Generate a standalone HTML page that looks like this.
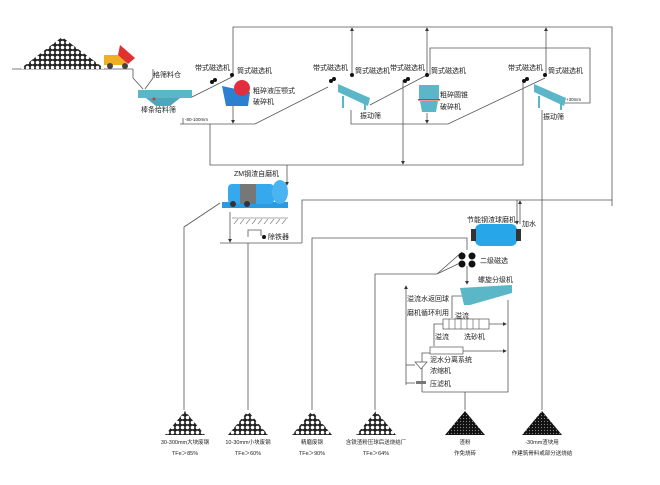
<!DOCTYPE html>
<html><head><meta charset="utf-8"><style>
body{margin:0;background:#fff;}
svg text{font-family:"Liberation Sans","Noto Sans CJK SC",sans-serif;fill:#222;}
</style></head><body>
<svg width="660" height="480" viewBox="0 0 660 480" xmlns="http://www.w3.org/2000/svg">
<defs>
<pattern id="dots" width="5" height="5" patternUnits="userSpaceOnUse"><rect width="5" height="5" fill="#222"/><circle cx="2.5" cy="2.5" r="1.8" fill="#fff"/></pattern>
<pattern id="dots2" width="3" height="3" patternUnits="userSpaceOnUse"><rect width="3" height="3" fill="#111"/><circle cx="1.5" cy="1.5" r="0.6" fill="#888"/></pattern>
<marker id="a" markerWidth="5" markerHeight="5" refX="4" refY="2.5" orient="auto"><path d="M0,0L5,2.5L0,5z" fill="#333"/></marker>
</defs>
<g stroke="#555" stroke-width="0.8" fill="none">
<line x1="12" y1="69" x2="133" y2="69"/>
<path d="M133 69V78L143 89M153 69V78L145 89"/>
<line x1="192" y1="97" x2="232" y2="77"/>
<path d="M233 75V27H612V206"/>
<line x1="352" y1="75" x2="352" y2="28" marker-end="url(#a)"/>
<line x1="427" y1="75" x2="427" y2="28" marker-end="url(#a)"/>
<line x1="546" y1="75" x2="546" y2="28" marker-end="url(#a)"/>
<path d="M430 75V48H590V103H563"/>
<line x1="233" y1="106" x2="233" y2="123" marker-end="url(#a)"/>
<line x1="183" y1="118" x2="183" y2="124"/>
<path d="M180 124H255L328 87"/>
<path d="M351 110V124H448L545 78"/>
<line x1="370" y1="105" x2="425" y2="76"/>
<line x1="427" y1="113" x2="427" y2="123" marker-end="url(#a)"/>
<path d="M210 124V165H523V83"/>
<line x1="403" y1="80" x2="403" y2="164" marker-end="url(#a)"/>
<line x1="287" y1="165" x2="287" y2="185" marker-end="url(#a)"/>
<path d="M302 243V200H612"/>
<line x1="517" y1="200" x2="517" y2="224" marker-end="url(#a)"/>
<line x1="520" y1="224" x2="520" y2="201" marker-end="url(#a)"/>
<line x1="542" y1="110" x2="542" y2="410"/>
<path d="M220 203L184 227V410"/>
<line x1="230" y1="212" x2="230" y2="242" marker-end="url(#a)"/>
<line x1="220" y1="243" x2="302" y2="243"/>
<path d="M248 243V410"/>
<path d="M248 237V230H261V236"/>
<path d="M312 410V238H467V250"/>
<path d="M375 410V274H437L462 262M437 274L462 252"/>
<line x1="467" y1="266" x2="467" y2="284" marker-end="url(#a)"/>
<line x1="406" y1="385" x2="406" y2="286" marker-end="url(#a)"/>
<path d="M462 296H452V318"/>
<path d="M508 300V392H422"/>
<line x1="489" y1="324" x2="506" y2="324" marker-end="url(#a)"/>
<path d="M443 324H434V346"/>
<line x1="463" y1="351" x2="506" y2="351" marker-end="url(#a)"/>
<path d="M430 353H422V392"/>
<line x1="415" y1="365" x2="406" y2="365"/>
<line x1="415" y1="383" x2="406" y2="383"/>
<line x1="465" y1="392" x2="465" y2="410"/>
</g>
<g stroke="#555" stroke-width="0.6"><line x1="232" y1="218" x2="288" y2="218"/>
<path d="M234 224l4-5M240 224l4-5M246 224l4-5M252 224l4-5M258 224l4-5M264 224l4-5M270 224l4-5M276 224l4-5M282 224l4-5"/></g>
<polygon points="20,69 62,37 105,69" fill="url(#dots)"/>
<rect x="104" y="55" width="22" height="10" fill="#f0b020"/>
<polygon points="120,45 135,58 128,64 118,55" fill="#e03030"/>
<circle cx="110" cy="66" r="3" fill="#444"/><circle cx="125" cy="66" r="3" fill="#444"/>
<rect x="138" y="90" width="54" height="8" fill="#5bb7c7"/>
<polygon points="146,98 180,98 170,106 156,106" fill="#4aa8ba"/>
<circle cx="154" cy="99" r="1.5" fill="#d33"/>
<g fill="#111"><circle cx="212" cy="82" r="2"/><circle cx="215" cy="80" r="2"/><circle cx="232" cy="75" r="2"/>
<circle cx="331" cy="81" r="2"/><circle cx="334" cy="79" r="2"/><circle cx="352" cy="75" r="2"/>
<circle cx="405" cy="81" r="2"/><circle cx="408" cy="79" r="2"/><circle cx="427" cy="75" r="2"/>
<circle cx="524" cy="81" r="2"/><circle cx="527" cy="79" r="2"/><circle cx="545" cy="75" r="2"/>
<circle cx="264" cy="237" r="2"/></g>
<polygon points="222,86 250,92 248,106 226,106" fill="#2d7fd0"/>
<circle cx="242" cy="88" r="8" fill="#e03040"/>
<polygon points="338,84 370,98 368,106 338,92" fill="#5bb7c7"/>
<rect x="342" y="96" width="2" height="12" fill="#5bb7c7"/><rect x="364" y="100" width="2" height="10" fill="#5bb7c7"/>
<polygon points="534,84 566,98 564,106 534,92" fill="#5bb7c7"/>
<rect x="538" y="96" width="2" height="12" fill="#5bb7c7"/><rect x="560" y="100" width="2" height="10" fill="#5bb7c7"/>
<rect x="419" y="85" width="20" height="14" fill="#5bb7c7"/>
<rect x="418" y="99" width="22" height="1.5" fill="#d33"/>
<polygon points="420,101 438,101 436,112 422,112" fill="#5bb7c7"/>
<rect x="222" y="202" width="66" height="6" fill="#2a9be0"/>
<rect x="228" y="184" width="46" height="20" rx="4" fill="#35a8ee"/>
<rect x="240" y="184" width="16" height="20" fill="#777"/>
<ellipse cx="280" cy="192" rx="8" ry="12" fill="#4ab4f0"/>
<circle cx="233" cy="204" r="3" fill="#333"/><circle cx="247" cy="204" r="3" fill="#333"/>
<rect x="475" y="224" width="42" height="22" rx="6" fill="#27a7ea"/>
<rect x="471" y="229" width="5" height="12" fill="#333"/><rect x="516" y="229" width="5" height="12" fill="#333"/>
<g fill="#111"><circle cx="462" cy="256" r="3.5"/><circle cx="472" cy="256" r="3.5"/><circle cx="462" cy="264" r="3.5"/><circle cx="472" cy="264" r="3.5"/></g>
<polygon points="460,288 512,285 512,293 470,305 464,305" fill="#5bb7c7"/>
<rect x="443" y="319" width="46" height="10" fill="#fff" stroke="#555" stroke-width="0.7"/>
<g stroke="#555" stroke-width="0.6"><path d="M449 319v10M455 319v10M461 319v10M467 319v10M473 319v10M479 319v10"/></g>
<rect x="430" y="347" width="33" height="7" fill="#fff" stroke="#555" stroke-width="0.7"/>
<path d="M415 362h12l-6 7z" fill="#fff" stroke="#555" stroke-width="0.7"/>
<rect x="416" y="381" width="10" height="3" fill="#777"/>
<g fill="url(#dots)"><polygon points="165,435 185,411 205,435"/><polygon points="228,435 248,411 268,435"/><polygon points="292,435 312,411 332,435"/><polygon points="356,435 376,411 396,435"/></g>
<g fill="url(#dots2)"><polygon points="445,435 465,411 485,435"/><polygon points="522,435 542,411 562,435"/></g>
<g font-size="7">
<text x="153" y="77">格筛料仓</text><text x="141" y="112">棒条给料筛</text>
<text x="195" y="70">带式磁选机</text><text x="237" y="73">筒式磁选机</text>
<text x="253" y="93">粗碎液压颚式</text><text x="253" y="104">破碎机</text>
<text x="313" y="70">带式磁选机</text><text x="355" y="73">筒式磁选机</text>
<text x="390" y="70">带式磁选机</text><text x="431" y="73">筒式磁选机</text>
<text x="440" y="97">粗碎圆锥</text><text x="440" y="109">破碎机</text>
<text x="508" y="70">带式磁选机</text><text x="548" y="73">筒式磁选机</text>
<text x="360" y="118">振动筛</text><text x="543" y="119">振动筛</text>
<text x="234" y="176">ZM钢渣自磨机</text><text x="268" y="239">除铁器</text>
<text x="467" y="222">节能钢渣球磨机</text><text x="522" y="226">加水</text>
<text x="480" y="263">二级磁选</text><text x="478" y="282">螺旋分级机</text>
<text x="407" y="301">溢流水返回球</text><text x="407" y="315">磨机循环利用</text>
<text x="455" y="318">溢流</text><text x="435" y="339">溢流</text><text x="464" y="339">洗砂机</text>
<text x="430" y="362">泥水分离系统</text><text x="430" y="373">浓缩机</text><text x="430" y="386">压滤机</text>
</g>
<g font-size="4.5"><text x="185" y="121">-80-100mm</text><text x="566" y="101">+30mm</text></g>
<g font-size="5.5" text-anchor="middle">
<text x="185" y="444">30-300mm大块废钢</text><text x="185" y="455">TFe＞85%</text>
<text x="248" y="444">10-30mm小块废钢</text><text x="248" y="455">TFe＞60%</text>
<text x="312" y="444">精磨废钢</text><text x="312" y="455">TFe＞90%</text>
<text x="376" y="444">含铁渣粉压球后送烧结厂</text><text x="376" y="455">TFe＞64%</text>
<text x="465" y="444">渣粉</text><text x="465" y="455">作免烧砖</text>
<text x="542" y="444">-30mm渣块用</text><text x="542" y="455">作建筑骨料或部分送烧结</text>
</g>
</svg>
</body></html>
